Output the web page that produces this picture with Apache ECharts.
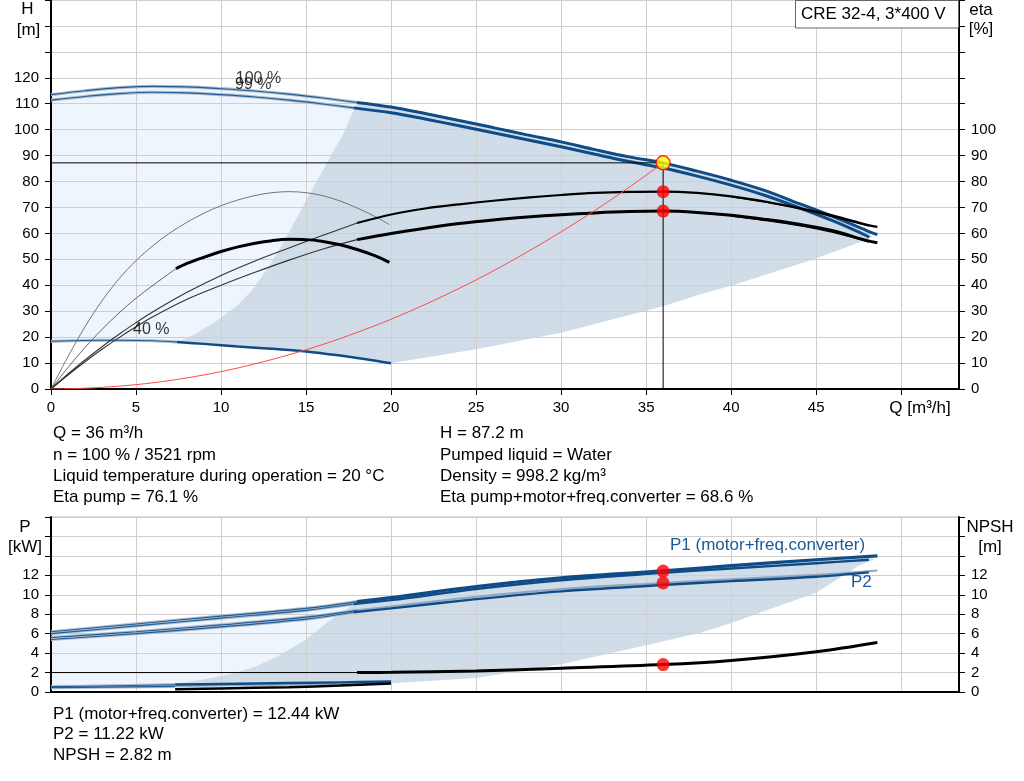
<!DOCTYPE html>
<html><head><meta charset="utf-8">
<script src="https://cdn.jsdelivr.net/npm/echarts@6/dist/echarts.min.js"></script>
<style>html,body{margin:0;padding:0;background:#fff}#c{width:1024px;height:781px}</style>
</head><body><div id="c"></div><script>
// ---------- data (Q in m3/h) ----------
const xTicksTop = [0,5,10,15,20,25,30,35,40,45];
// Head curves
const H100_thin = [[0,113.5],[2,115],[4,116.2],[6,116.7],[8,116.5],[10,115.8],[12,114.9],[14,113.7],[16,112.2],[18,110.5]];
const H100_thick = [[18,110.5],[20,108.7],[22,106.2],[24,103.5],[26,100.8],[28,98],[30,95.3],[32,92.3],[34,89.5],[36,87.2],[38,84.0],[40,80.5],[42,76.5],[44,71.5],[46,66.5],[48,61],[48.6,59.5]];
const H99_thin = [[0,111.4],[2,112.8],[4,113.9],[6,114.4],[8,114.2],[10,113.5],[12,112.6],[14,111.4],[16,109.9],[17.8,108.4]];
const H99_thick = [[17.8,108.4],[20,106.5],[22,104.1],[24,101.5],[26,98.8],[28,96.1],[30,93.4],[32,90.5],[34,87.7],[36,85.2],[38,82.1],[40,78.6],[42,74.6],[44,69.9],[46,64.8],[48,59],[48.1,58.4]];
const H40_thin = [[0,18.4],[2,18.7],[4,18.8],[6,18.6],[7.4,18.1]];
const H40_thick = [[7.4,18.1],[9,17.4],[11,16.4],[13,15.5],[15,14.5],[17,12.9],[19,11.0],[20,9.9]];
// Efficiency curves
const etaP100_thin = [[0,0],[1,5.8],[2,11.2],[3,16.3],[4,21.1],[5,25.6],[6,29.8],[8,37.3],[10,43.8],[12,49.4],[14,54.4],[16,59.3],[18,64]];
const etaP100_thick = [[18,64],[20,67.3],[22,69.6],[24,71.2],[26,72.6],[28,73.8],[30,74.8],[32,75.6],[34,76],[36,76.1],[38,75.6],[40,74.3],[42,72.3],[44,69.8],[46,66.9],[48,63.3],[48.6,62.5]];
const etaP99_end = [[40,74.1],[42,72.0],[44,69.4],[46,66.4],[48.1,62.8]];
const etaT100_thin = [[0,0],[1,5.4],[2,10.5],[3,15.3],[4,19.8],[5,24],[6,27.9],[8,34.6],[10,40],[12,45],[14,49.7],[16,54],[18,57.6]];
const etaT100_thick = [[18,57.6],[20,60],[22,62],[24,63.8],[26,65.2],[28,66.3],[30,67.2],[32,67.9],[34,68.4],[36,68.6],[38,68.1],[40,67],[42,65.4],[44,63.5],[46,61],[48,57.2],[48.6,56.4]];
const etaT99_end = [[40,66.8],[42,65.1],[44,63.1],[46,60.5],[48.1,56.8]];
const etaP40 = [[0,0],[1,12.5],[2,24],[3,34],[4,42.5],[5,49.5],[6,55.3],[7,60.2],[8,64.3],[9,67.8],[10,70.7],[11,72.9],[12,74.6],[13,75.7],[14,76.1],[15,75.7],[16,74.5],[17,72.5],[18,69.8],[19,66.7],[19.9,63.4]];
const etaT40_thin = [[0,0],[1,8.3],[2,16],[3,23],[4,29.3],[5,35],[6,40],[7.35,46.4]];
const etaT40_thick = [[7.35,46.4],[8,48.4],[9,50.8],[10,53],[11,54.8],[12,56.2],[13,57.2],[14,57.7],[15,57.6],[16,56.9],[17,55.6],[18,53.8],[19,51.5],[19.9,48.8]];
// System curve
const sysCurve = [[0,0],[2,0.3],[4,1.1],[6,2.4],[8,4.3],[10,6.7],[12,9.7],[14,13.2],[16,17.2],[18,21.8],[20,26.9],[22,32.6],[24,38.8],[26,45.5],[28,52.8],[30,60.6],[32,68.9],[34,77.8],[36,87.2]];
// Operating range boundaries (top)
const rangeLeftH = [[7.5,18.2],[8.5,21.3],[9.8,26.5],[11,32.5],[11.8,38],[12.8,47],[13.7,57],[14.5,66.5],[15.2,75],[16.2,87],[17.2,98.5],[18,110.5]];
const rangeRightH = [[20,9.9],[25,15.3],[30,21.7],[36,31.9],[38.2,36.5],[40,39.8],[45,50.3],[47.6,56.7]];
// Duty point
const dutyQ = 36, dutyH = 87.2, dutyEtaP = 76.1, dutyEtaT = 68.6;
const dutyP1 = 12.44, dutyP2 = 11.22, dutyNPSH = 2.82;

// Power curves
const P1_100_thin = [[0,6.2],[5,7.0],[10,7.8],[15,8.6],[18,9.3]];
const P1_100_thick = [[18,9.3],[20,9.7],[25,10.85],[30,11.75],[36,12.45],[40,13.0],[45,13.6],[48.6,14.0]];
const P1_99_thin = [[0,6.0],[5,6.8],[10,7.6],[15,8.4],[17.8,9.05]];
const P1_99_thick = [[17.8,9.05],[20,9.45],[25,10.6],[30,11.5],[36,12.25],[40,12.7],[45,13.25],[48.1,13.6]];
const P2_100_thin = [[0,5.6],[5,6.2],[10,6.9],[15,7.7],[18,8.4]];
const P2_100_thick = [[18,8.4],[20,8.8],[25,9.8],[30,10.6],[36,11.22],[40,11.6],[45,12.05],[48.6,12.5]];
const P2_99_thin = [[0,5.4],[5,6.0],[10,6.7],[15,7.5],[17.8,8.2]];
const P2_99_thick = [[17.8,8.2],[20,8.6],[25,9.55],[30,10.35],[36,11.0],[40,11.4],[45,11.85],[48.1,12.3]];
const P1_40_thin = [[0,0.55],[3,0.62],[7.3,0.75]];
const P1_40_thick = [[7.3,0.77],[10,0.83],[14,0.92],[17,0.99],[20,1.07]];
const P2_40_thin = [[0,0.45],[3,0.5],[7.3,0.58]];
const P2_40_thick = [[7.3,0.6],[10,0.66],[14,0.75],[17,0.82],[20,0.9]];
const NPSH_thin = [[0,2.0],[18,2.0]];
const NPSH_thick = [[18,2.0],[20,2.02],[25,2.17],[30,2.45],[36,2.82],[40,3.25],[45,4.15],[48.6,5.1]];
const NPSH40_thick = [[7.3,0.28],[10,0.36],[14,0.5],[17,0.66],[20,0.87]];
const rangeLeftP = [[7.3,0.85],[9,1.3],[10.7,1.9],[12,2.6],[13.3,3.65],[15,5.4],[16.2,7.1],[17.2,8.3],[18,9.3]];
const rangeRightP = [[20,0.9],[25,1.45],[30,2.85],[35,4.8],[38.2,6.1],[40,7.1],[45,10.2],[47.6,13.1],[48.4,13.6]];

const infoTop = [
  ['Q = 36 m³/h','H = 87.2 m'],
  ['n = 100 % / 3521 rpm','Pumped liquid = Water'],
  ['Liquid temperature during operation = 20 °C','Density = 998.2 kg/m³'],
  ['Eta pump = 76.1 %','Eta pump+motor+freq.converter = 68.6 %']
];
const infoBottom = ['P1 (motor+freq.converter) = 12.44 kW','P2 = 11.22 kW','NPSH = 2.82 m'];

// ---------- helpers ----------
const FONT = 'Liberation Sans, Arial, sans-serif';
const BLUE = '#0f4c87';
function ln(data, xi, yi, color, width, z, smooth){
  return {type:'line', xAxisIndex:xi, yAxisIndex:yi, data:data, symbol:'none', showSymbol:false,
    smooth: smooth===undefined?0.35:smooth, lineStyle:{color:color, width:width}, z:z||3, silent:true, animation:false, clip:true};
}
function haloLine(data, xi, yi){
  return [ln(data,xi,yi,'#aebfd1',3.2,3), ln(data,xi,yi,'#235c93',1.1,4)];
}
function poly(points, xi, yi, fill){
  return {type:'custom', xAxisIndex:xi, yAxisIndex:yi, data:points, silent:true, animation:false, z:1, clip:true,
    renderItem:function(params, api){
      if(params.dataIndex!==0) return null;
      return {type:'polygon', shape:{points:points.map(p=>api.coord(p)), smooth:0}, style:{fill:fill}};
    }};
}
function rev(a){return a.slice().reverse();}

const lightTop = H100_thin.concat(rev(rangeLeftH), rev(H40_thin));
const darkTop = rangeLeftH.concat(H100_thick.slice(1, H100_thick.length-1), [[48.3,58.6]], rev(rangeRightH), rev(H40_thick));
const lightBot = P1_100_thin.concat(rev(rangeLeftP), rev(P1_40_thin));
const darkBot = rangeLeftP.concat(P1_100_thick.slice(1, P1_100_thick.length-1), [[48.3,13.75]], rev(rangeRightP), rev(P1_40_thick));

const series = [];
series.push(poly(lightTop,0,0,'#eef5fc'));
series.push(poly(darkTop,0,0,'#d0dce8'));
series.push(poly(lightBot,1,2,'#eef5fc'));
series.push(poly(darkBot,1,2,'#d0dce8'));

// top chart curves
series.push(...haloLine(H100_thin,0,0), ...haloLine(H99_thin,0,0));
series.push(ln(H100_thick,0,0,BLUE,3,5), ln(H99_thick,0,0,BLUE,3,5));
series.push(...haloLine(H40_thin,0,0));
series.push(ln(H40_thick,0,0,BLUE,2.5,5));
series.push(ln(etaP40,0,1,'#666',0.9,4));
series.push(ln(etaT40_thin,0,1,'#555',0.9,4));
series.push(ln(etaT40_thick,0,1,'#000',3,5));
series.push(ln(etaP100_thin,0,1,'#333',1.1,4));
series.push(ln(etaT100_thin,0,1,'#333',1.1,4));
series.push(ln(etaP100_thick,0,1,'#000',2.2,5));
series.push(ln(etaP99_end,0,1,'#000',1.2,5));
series.push(ln(etaT100_thick,0,1,'#000',3,5));
series.push(ln(etaT99_end,0,1,'#000',2,5));
series.push(ln(sysCurve,0,0,'#ff4a4a',1,6));
series.push(ln([[0,dutyH],[dutyQ,dutyH]],0,0,'#000',1,6,false));
series.push(ln([[dutyQ,0],[dutyQ,dutyH]],0,0,'#000',1,6,false));
series.push({type:'scatter', xAxisIndex:0, yAxisIndex:1, data:[[dutyQ,dutyEtaP],[dutyQ,dutyEtaT]], symbolSize:13,
  itemStyle:{color:'#ff0000'}, z:8, silent:true, animation:false});
series.push({type:'scatter', xAxisIndex:0, yAxisIndex:0, data:[[dutyQ,dutyH]], symbolSize:14,
  itemStyle:{color:'#ffff00', borderColor:'#ff0000', borderWidth:1.5}, z:9, silent:true, animation:false});
// curve labels
function lbl(xi, yi, pt, text, color){
  return {type:'scatter', xAxisIndex:xi, yAxisIndex:yi, data:[pt], symbolSize:0, z:10, silent:true, animation:false,
    label:{show:true, position:'inside', formatter:text, color:color||'#000', fontFamily:FONT, fontSize:16}};
}
series.push(lbl(0,0,[12.2,119.6],'100 %'));
series.push(lbl(0,0,[11.9,117.5],'99 %'));
series.push(lbl(0,0,[5.9,23],'40 %'));

// bottom chart curves
series.push(...haloLine(P1_100_thin,1,2), ...haloLine(P1_99_thin,1,2), ...haloLine(P2_100_thin,1,2), ...haloLine(P2_99_thin,1,2));
series.push(ln(P1_100_thick,1,2,BLUE,3.2,5), ln(P1_99_thick,1,2,BLUE,2.4,5));
series.push(ln(P2_100_thick,1,2,'#8ea6c0',2,5), ln(P2_99_thick,1,2,BLUE,2.4,5));
series.push(...haloLine(P1_40_thin,1,2), ...haloLine(P2_40_thin,1,2));
series.push(ln(P2_40_thick,1,2,'#9fb3c9',2,5), ln(P1_40_thick,1,2,BLUE,2.5,5));
series.push(ln(NPSH40_thick,1,3,'#000',2.5,5));
series.push(ln(NPSH_thin,1,3,'#000',1,5,false));
series.push(ln(NPSH_thick,1,3,'#000',3,5));
series.push({type:'scatter', xAxisIndex:1, yAxisIndex:2, data:[[dutyQ,dutyP1],[dutyQ,dutyP2]], symbolSize:13,
  itemStyle:{color:'#ff0000'}, z:8, silent:true, animation:false});
series.push({type:'scatter', xAxisIndex:1, yAxisIndex:3, data:[[dutyQ,dutyNPSH]], symbolSize:13,
  itemStyle:{color:'#ff0000'}, z:8, silent:true, animation:false});

const axLabel = {fontFamily:FONT, fontSize:15, color:'#000'};
const split = {show:true, lineStyle:{color:'#cfcfcf', width:1}};
function yAx(grid, pos, max, interval, showMax, splitOn){
  return {type:'value', gridIndex:grid, position:pos, min:0, max:max, interval:interval, z:1.5,
    axisLine:{show:true, lineStyle:{color:'#000', width:2}},
    axisTick:{show:true, length:6, lineStyle:{color:'#000', width:1}},
    axisLabel:Object.assign({margin:12, formatter:v=> v<=showMax? String(v):''}, axLabel),
    splitLine: splitOn? split : {show:false}};
}

const graphic = [];
function txt(x,y,text,opt){
  graphic.push({type:'text', x:x, y:y, z:100, style:Object.assign({text:text, font:'17px '+FONT, fill:'#000', verticalAlign:'middle', align:'left'}, opt||{})});
}
txt(27.5,9.5,'H',{align:'center'}); txt(28.5,30,'[m]',{align:'center'});
txt(981,10.5,'eta',{align:'center'}); txt(981,29.5,'[%]',{align:'center'});
txt(25,527.5,'P',{align:'center'}); txt(25,547,'[kW]',{align:'center'});
txt(990,527.5,'NPSH',{align:'center'}); txt(990,547,'[m]',{align:'center'});
txt(920,408,'Q [m³/h]',{align:'center'});
graphic.push({type:'rect', z:99, shape:{x:795.5, y:0.5, width:163, height:27.5}, style:{fill:'#fff', stroke:'#666', lineWidth:1}});
txt(801,14,'CRE 32-4, 3*400 V');
txt(670,545.5,'P1 (motor+freq.converter)',{fill:'#1b5a96'});
txt(851,582,'P2',{fill:'#1b5a96'});
const infoY = [433,455,476.5,497.5];
infoTop.forEach((r,i)=>{ txt(53,infoY[i],r[0]); txt(440,infoY[i],r[1]); });
const infoBY = [714,734.5,755.5];
infoBottom.forEach((t,i)=>txt(53,infoBY[i],t));

const option = {
  animation:false,
  backgroundColor:'#fff',
  grid:[
    {left:51, top:0, width:908, height:389, show:true, borderColor:'#bbb', borderWidth:1, backgroundColor:'transparent'},
    {left:51, top:517, width:908, height:175, show:true, borderColor:'#bbb', borderWidth:1, backgroundColor:'transparent'}
  ],
  xAxis:[
    {type:'value', gridIndex:0, min:0, max:53.4, interval:5, z:1.5,
      axisLine:{show:true, onZero:false, lineStyle:{color:'#000', width:2}},
      axisTick:{show:true, length:6, lineStyle:{color:'#000'}},
      axisLabel:Object.assign({margin:11, formatter:v=> xTicksTop.indexOf(v)>=0? String(v):'', showMaxLabel:false}, axLabel),
      splitLine:split},
    {type:'value', gridIndex:1, min:0, max:53.4, interval:5, z:1.5,
      axisLine:{show:true, onZero:false, lineStyle:{color:'#000', width:2}},
      axisTick:{show:false}, axisLabel:{show:false}, splitLine:split}
  ],
  yAxis:[
    yAx(0,'left',150,10,120,true),
    yAx(0,'right',150,10,100,false),
    yAx(1,'left',18,2,12,true),
    yAx(1,'right',18,2,12,false)
  ],
  graphic:graphic,
  series:series
};
const chart = echarts.init(document.getElementById('c'), null, {renderer:'canvas'});
chart.setOption(option);
</script></body></html>
